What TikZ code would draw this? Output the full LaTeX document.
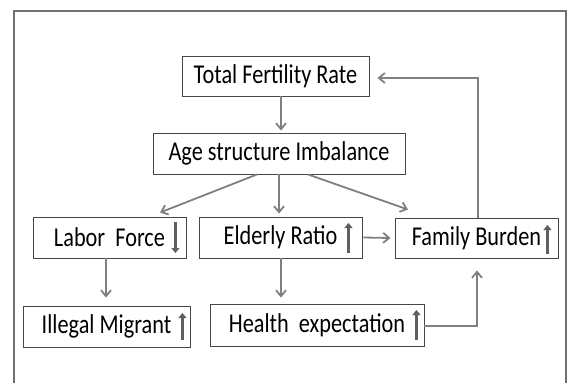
\documentclass[tikz,border=0pt]{standalone}
\usepackage{fontspec}
\usepackage{graphicx}
\setmainfont{Carlito}
\usetikzlibrary{arrows.meta}
\definecolor{framec}{HTML}{707070}
\definecolor{boxc}{HTML}{474747}
\definecolor{arrc}{HTML}{808080}
\definecolor{inarrc}{HTML}{5f5f5f}
\newcommand\tx[1]{\scalebox{1}[1.22]{#1}}
\begin{document}
\begin{tikzpicture}[x=1pt,y=-1pt,
  bx/.style={draw=boxc,line width=0.9pt,inner sep=0pt,fill=white,
    font=\fontsize{22.3}{26}\selectfont,text=black},
  arr/.style={draw=arrc,line width=1.8pt,-{Straight Barb[length=6pt,width=10pt]}},
  inarr/.style={draw=inarrc,line width=3.8pt,-{Triangle[length=5pt,width=8pt]}},
  framest/.style={draw=framec,line width=1.8pt}]
\useasboundingbox[fill=white] (0,0) rectangle (573,383);
\draw[framest] (14,383) -- (14,11) -- (566,11) -- (566,383);

\node[bx,minimum width=187pt,minimum height=40pt] (tfr) at (275.5,76) {\tx{Total Fertility Rate}};
\node[bx,minimum width=252pt,minimum height=41pt] (age) at (279,153.5) {\tx{Age structure Imbalance}};
\node[bx,minimum width=153pt,minimum height=41pt] (labor) at (109.5,237.5) {\tx{Labor~ Force}};
\node[bx,minimum width=163pt,minimum height=41pt] (elder) at (280.5,237.5) {\tx{Elderly Ratio}};
\node[bx,minimum width=163pt,minimum height=40pt] (family) at (476.5,238) {\tx{Family Burden}};
\node[bx,minimum width=167pt,minimum height=41pt] (illegal) at (106.5,326.5) {\tx{Illegal Migrant}};
\node[bx,minimum width=214pt,minimum height=42pt] (health) at (317,325) {\tx{Health~ expectation}};

% connectors
\draw[arr] ([xshift=5.5pt]tfr.south) -- ([xshift=2pt,yshift=2pt]age.north);
\draw[arr] ([xshift=-22pt]age.south) -- ([xshift=50.5pt,yshift=4pt]labor.north);
\draw[arr] (age.south) -- ([xshift=-1.5pt,yshift=3pt]elder.north);
\draw[arr] ([xshift=29pt]age.south) -- ([xshift=-68.5pt,yshift=8pt]family.north);
\draw[arr] ([xshift=1pt]elder.east) -- ([xshift=-4pt]family.west);
\draw[arr] ([xshift=-3.5pt]labor.south) -- ([xshift=-0.5pt,yshift=8pt]illegal.north);
\draw[arr] ([xshift=0.5pt]elder.south) -- ([xshift=-36pt,yshift=6pt]health.north);
\draw[arr] ([yshift=-1pt]health.east) -| ([xshift=0.5pt,yshift=-12pt]family.south);
\draw[arr] ([xshift=1.5pt]family.north) |- ([xshift=8pt,yshift=-2pt]tfr.east);

% in-box trend arrows
\draw[inarr] ([xshift=-11pt,yshift=15.5pt]labor.east) -- ([xshift=-11pt,yshift=-15.5pt]labor.east);
\draw[inarr] ([xshift=-14pt,yshift=-15.5pt]elder.east) -- ([xshift=-14pt,yshift=14.5pt]elder.east);
\draw[inarr] ([xshift=-11pt,yshift=-16pt]family.east) -- ([xshift=-11pt,yshift=13pt]family.east);
\draw[inarr] ([xshift=-8pt,yshift=-13.5pt]illegal.east) -- ([xshift=-8pt,yshift=13.5pt]illegal.east);
\draw[inarr] ([xshift=-8pt,yshift=-15pt]health.east) -- ([xshift=-8pt,yshift=15pt]health.east);
\end{tikzpicture}
\end{document}
